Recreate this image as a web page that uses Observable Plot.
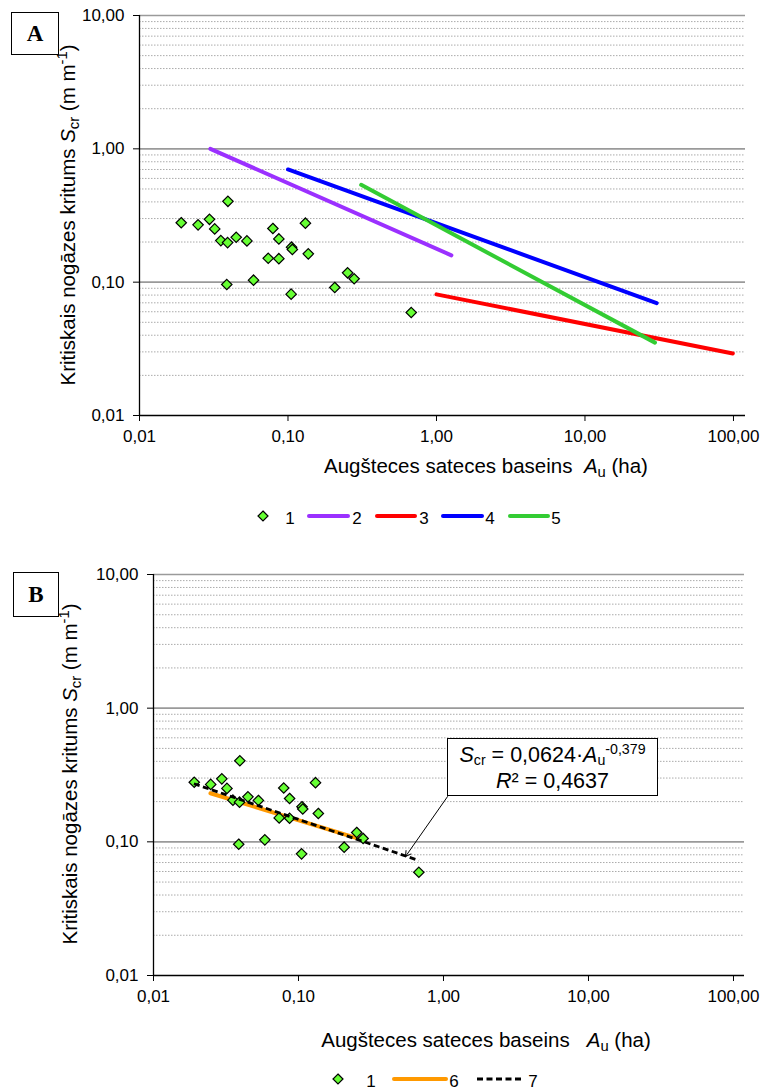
<!DOCTYPE html>
<html><head><meta charset="utf-8">
<script src="https://cdn.jsdelivr.net/npm/d3@7"></script>
<script src="https://cdn.jsdelivr.net/npm/@observablehq/plot@0.6"></script>
<style>
body{margin:0;background:#fff;font-family:"Liberation Sans",Arial,sans-serif;color:#000;}
#root{position:relative;width:763px;height:1090px;overflow:hidden;background:#fff;}
.tag{position:absolute;border:1px solid #000;font-family:"Liberation Serif","Times New Roman",serif;font-weight:bold;font-size:23px;display:flex;align-items:center;justify-content:center;box-sizing:border-box;background:#fff}
.sub{font-size:0.72em;vertical-align:-0.3em;line-height:0}
.sup{font-size:0.72em;vertical-align:0.55em;line-height:0}
.ytitle{position:absolute;width:440px;height:26px;line-height:26px;text-align:center;font-size:20.5px;transform:rotate(-90deg);white-space:nowrap}
.xtitle{position:absolute;width:440px;height:26px;line-height:26px;text-align:center;font-size:20.5px;white-space:nowrap}
.note{position:absolute;border:1px solid #000;background:#fff;box-sizing:border-box;text-align:center;font-size:21.5px;white-space:nowrap}
.note div{position:absolute;left:0;width:100%;line-height:22px;height:22px}
.note .nsub{font-size:0.66em;vertical-align:-0.18em;line-height:0}
.note .nsup{font-size:0.66em;vertical-align:0.55em;line-height:0}
</style></head><body><div id="root"></div><script>
// ---- data ----
const pointAu = [0.0191,0.0248,0.0296,0.0321,0.0394,0.0353,0.0392,0.0448,0.0529,0.0387,0.0586,0.0791,0.0868,0.0736,0.0868,0.1057,0.107,0.131,0.137,0.105,0.2065,0.252,0.279,0.676];
const pointS  = [0.279,0.269,0.296,0.251,0.404,0.205,0.198,0.217,0.204,0.096,0.1035,0.2527,0.211,0.151,0.150,0.183,0.176,0.277,0.163,0.0813,0.0912,0.1175,0.106,0.0592];

const line2Au = [0.030, 1.26],  line2S = [1.0, 0.159];
const line3Au = [1.0, 99],      line3S = [0.081, 0.0292];
const line4Au = [0.1, 30.4],    line4S = [0.70, 0.0697];
const line5Au = [0.311, 29.6],  line5S = [0.537, 0.0352];
const line6Au = [0.0247, 0.28], line6S = [0.231, 0.103];
const line7Au = [0.019, 0.676], line7S = [0.272, 0.0725];

const arrowFrom = [1.066, 0.218], arrowTo = [0.547, 0.0776];

const xTicks = [0.01, 0.1, 1, 10, 100];
const yTicks = [0.01, 0.1, 1, 10];
const yMajorGrid = [0.1, 1, 10];
const yMinorGrid = [0.02,0.03,0.04,0.05,0.06,0.07,0.08,0.09,0.2,0.3,0.4,0.5,0.6,0.7,0.8,0.9,2,3,4,5,6,7,8,9];

const colors = {c1:"#66ff33", c2:"#9b30ff", c3:"#ff0000", c4:"#0000ff", c5:"#33cc33", c6:"#ff9900", c7:"#000000"};

const points = pointAu.map((a,i)=>({a, s:pointS[i]}));
const mk = (A,S)=>A.map((a,i)=>({a, s:S[i]}));
const fmt = d => d.toFixed(2).replace(".", ",");
const root = document.getElementById("root");

function gridMarks(){
  return [
    Plot.ruleY(yMinorGrid, {stroke:"#ababab", strokeWidth:1, strokeDasharray:"1.5 1.5"}),
    Plot.ruleY(yMajorGrid, {stroke:"#9a9a9a", strokeWidth:1.6}),
    Plot.ruleY([0.01], {stroke:"#000", strokeWidth:1.3}),
    Plot.ruleX([0.01], {stroke:"#000", strokeWidth:1.3}),
    Plot.axisY({ticks:yTicks, tickFormat:fmt, tickSize:6, tickPadding:9, fontSize:17, label:null}),
    Plot.axisX({ticks:xTicks, tickFormat:fmt, tickSize:6, tickPadding:8, fontSize:17, label:null})
  ];
}
const dotMark = () => Plot.dot(points, {x:"a", y:"s", symbol:"diamond2", r:4.7, fill:colors.c1, stroke:"#000", strokeWidth:1.2});
const lineMark = (A,S,c,extra={}) => Plot.line(mk(A,S), {x:"a", y:"s", stroke:c, strokeWidth:4, strokeLinecap:"round", ...extra});

// ---- Panel A ----
const plotA = Plot.plot({
  width:763, height:480,
  marginLeft:139, marginRight:18, marginTop:15, marginBottom:65,
  x:{type:"log", domain:[0.01, 120.5]},
  y:{type:"log", domain:[0.01, 10]},
  style:{fontFamily:"'Liberation Sans', Arial, sans-serif", color:"#000", background:"transparent", overflow:"visible"},
  marks:[
    ...gridMarks(),
    lineMark(line2Au, line2S, colors.c2),
    lineMark(line3Au, line3S, colors.c3),
    lineMark(line4Au, line4S, colors.c4),
    lineMark(line5Au, line5S, colors.c5),
    dotMark()
  ]
});
plotA.style.position="absolute"; plotA.style.left="0px"; plotA.style.top="0px";
root.appendChild(plotA);

// ---- Panel B ----
const plotB = Plot.plot({
  width:763, height:500,
  marginLeft:153, marginRight:19, marginTop:34, marginBottom:65,
  x:{type:"log", domain:[0.01, 119.1]},
  y:{type:"log", domain:[0.01, 10]},
  style:{fontFamily:"'Liberation Sans', Arial, sans-serif", color:"#000", background:"transparent", overflow:"visible"},
  marks:[
    ...gridMarks(),
    lineMark(line6Au, line6S, colors.c6),
    dotMark(),
    lineMark(line7Au, line7S, colors.c7, {strokeWidth:2.8, strokeDasharray:"6 3.5", strokeLinecap:"butt"}),
    Plot.arrow([{x1:arrowFrom[0], y1:arrowFrom[1], x2:arrowTo[0], y2:arrowTo[1]}], {x1:"x1", y1:"y1", x2:"x2", y2:"y2", stroke:"#000", strokeWidth:1, headLength:9})
  ]
});
plotB.style.position="absolute"; plotB.style.left="0px"; plotB.style.top="540px";
root.appendChild(plotB);

// ---- HTML labels ----
function addHTML(html){ const d=document.createElement("div"); d.innerHTML=html; const el=d.firstElementChild; root.appendChild(el); return el; }
const yTitle = 'Kritiskais nogāzes kritums <i>S</i><span class="sub">cr</span> (m m<span class="sup">-1</span>)';
addHTML(`<div class="tag" style="left:11px;top:12px;width:48px;height:43px">A</div>`);
addHTML(`<div class="tag" style="left:13px;top:572px;width:46px;height:45px">B</div>`);
addHTML(`<div class="ytitle" style="left:-152px;top:202px">${yTitle}</div>`);
addHTML(`<div class="ytitle" style="left:-150px;top:761px">${yTitle}</div>`);
addHTML(`<div class="xtitle" style="left:266px;top:453px">Augšteces sateces baseins&nbsp; <i>A</i><span class="sub">u</span> (ha)</div>`);
addHTML(`<div class="xtitle" style="left:266px;top:1027px">Augšteces sateces baseins&nbsp;&nbsp; <i>A</i><span class="sub">u</span> (ha)</div>`);
addHTML(`<div class="note" style="left:447px;top:738px;width:211px;height:58px"><div style="top:5px"><i>S</i><span class="nsub">cr</span> = 0,0624·<i>A</i><span class="nsub">u</span><span class="nsup">-0,379</span></div><div style="top:31px"><i>R</i>² = 0,4637</div></div>`);

// ---- legends ----
function legend(top, items){
  const svg = d3.create("svg").attr("width",763).attr("height",30)
    .style("position","absolute").style("left","0px").style("top",top+"px")
    .style("font-family","'Liberation Sans', Arial, sans-serif").style("font-size","17px");
  const cy = 14;
  for (const it of items){
    if (it.type==="dot"){
      svg.append("path").attr("d",`M${it.x},${cy-5}L${it.x+5},${cy}L${it.x},${cy+5}L${it.x-5},${cy}Z`)
        .attr("fill",colors.c1).attr("stroke","#000").attr("stroke-width",1.2);
    } else if (it.type==="line"){
      svg.append("line").attr("x1",it.x1).attr("x2",it.x2).attr("y1",cy).attr("y2",cy)
        .attr("stroke",it.c).attr("stroke-width",it.w||4).attr("stroke-linecap",it.dash?"butt":"round")
        .attr("stroke-dasharray",it.dash||null);
    } else {
      svg.append("text").attr("x",it.x).attr("y",cy+8).attr("text-anchor","middle").text(it.t);
    }
  }
  root.appendChild(svg.node());
}
legend(502, [
  {type:"dot", x:263}, {type:"text", x:290, t:"1"},
  {type:"line", x1:309, x2:348, c:colors.c2}, {type:"text", x:357, t:"2"},
  {type:"line", x1:377, x2:415, c:colors.c3}, {type:"text", x:424, t:"3"},
  {type:"line", x1:443, x2:482, c:colors.c4}, {type:"text", x:490, t:"4"},
  {type:"line", x1:510, x2:548, c:colors.c5}, {type:"text", x:556, t:"5"}
]);
legend(1065, [
  {type:"dot", x:338}, {type:"text", x:371, t:"1"},
  {type:"line", x1:394, x2:446, c:colors.c6}, {type:"text", x:454, t:"6"},
  {type:"line", x1:477, x2:523, c:"#000", w:2.8, dash:"6 3.5"}, {type:"text", x:533, t:"7"}
]);
</script></body></html>
